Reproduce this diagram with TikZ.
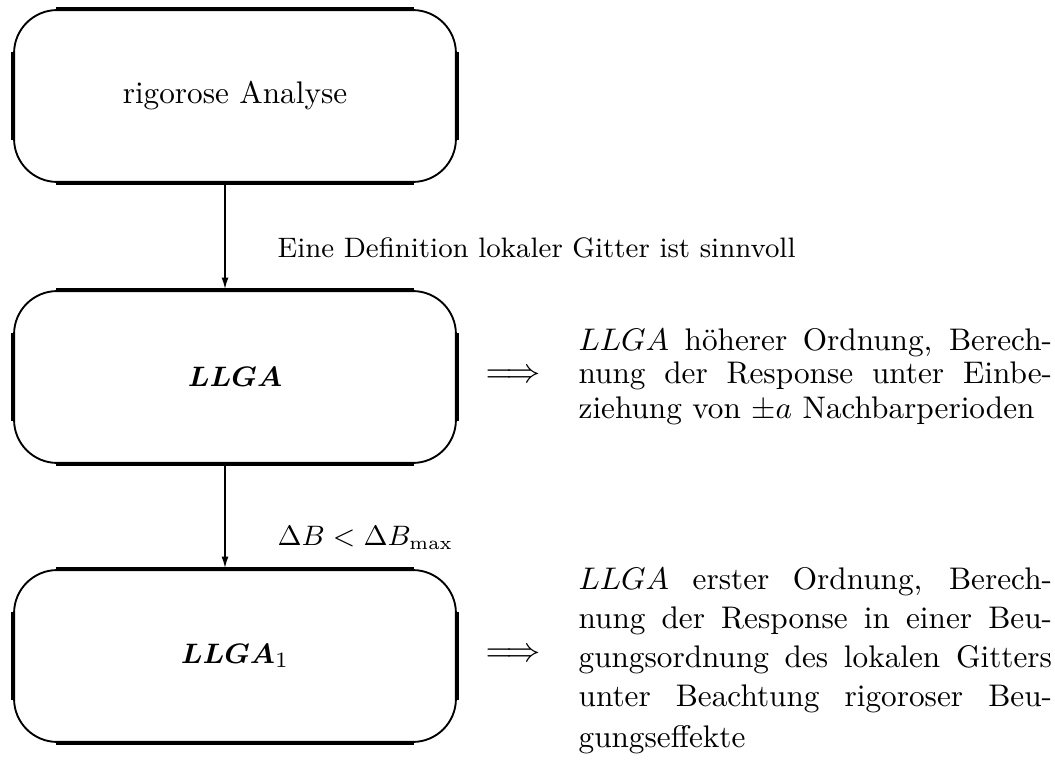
\documentclass[tikz,border=0pt]{standalone}
\usepackage{bm}
\usetikzlibrary{arrows.meta}
\newcommand\justline[1]{\makebox[151.5pt][s]{#1}}
\begin{document}
\begin{tikzpicture}[x=0.32pt,y=-0.32pt,
  flowbox/.style={draw, line width=0.6pt, rounded corners=13.8pt, minimum width=141.4pt, minimum height=55pt, inner sep=0pt},
  boxedge/.style={line width=1.1pt},
  flowarrow/.style={line width=0.7pt, -{Latex[length=4pt,width=2.2pt]}},
  lbl/.style={anchor=base west, inner sep=0pt},
  smalllbl/.style={anchor=base west, inner sep=0pt, font=\small},
  implies/.style={anchor=west, inner sep=0pt, font=\fontsize{10.8}{13}\selectfont}]
\useasboundingbox (0,0) rectangle (1055,766);
\node[flowbox] (b1) at (235,96) {rigorose Analyse};
\node[flowbox, font=\fontsize{9.4}{11}\selectfont] (b2) at (235,377) {$\bm{LLGA}$};
\node[flowbox, font=\fontsize{9.4}{11}\selectfont] (b3) at (235,656) {$\bm{LLGA}_1$};
\foreach \b in {b1,b2,b3} {
  \draw[boxedge] ([xshift=13.8pt]\b.north west) -- ([xshift=-13.8pt]\b.north east);
  \draw[boxedge] ([xshift=13.8pt]\b.south west) -- ([xshift=-13.8pt]\b.south east);
  \draw[boxedge] ([yshift=-13.8pt]\b.north west) -- ([yshift=13.8pt]\b.south west);
  \draw[boxedge] ([yshift=-13.8pt]\b.north east) -- ([yshift=13.8pt]\b.south east);
}
\coordinate (ax) at (225,0);
\draw[flowarrow] (b1.south -| ax) -- (b2.north -| ax);
\draw[flowarrow] (b2.south -| ax) -- (b3.north -| ax);
\node[smalllbl] (l1) at (277,257) {Eine Definition lokaler Gitter ist sinnvoll};
\node[smalllbl] (l2) at (277,546) {$\Delta B < \Delta B_{\max}$};
\node[implies] (i1) at (485,376) {$\Longrightarrow$};
\node[implies] (i2) at (485,655) {$\Longrightarrow$};
\node[lbl] (p1a) at (578,350) {\justline{$LLGA$ höherer Ordnung, Berech-}};
\node[lbl] (p1b) at (578,384) {\justline{nung der Response unter Einbe-}};
\node[lbl] (p1c) at (578,418) {ziehung von $\pm a$ Nachbarperioden};
\node[lbl] (p2a) at (578,589) {\justline{$LLGA$ erster Ordnung, Berech-}};
\node[lbl] (p2b) at (578,628) {\justline{nung der Response in einer Beu-}};
\node[lbl] (p2c) at (578,667) {\justline{gungsordnung des lokalen Gitters}};
\node[lbl] (p2d) at (578,706) {\justline{unter Beachtung rigoroser Beu-}};
\node[lbl] (p2e) at (578,747) {gungseffekte};
\end{tikzpicture}
\end{document}
